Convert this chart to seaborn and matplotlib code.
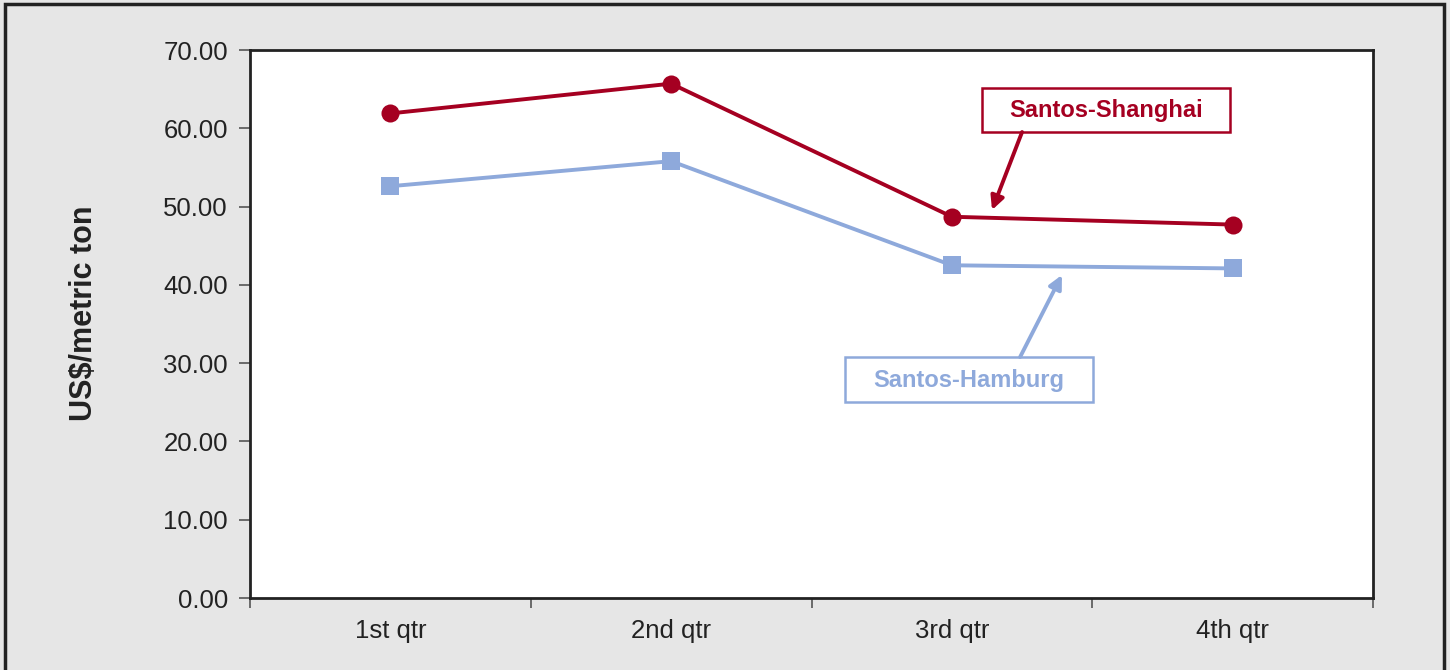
import matplotlib
matplotlib.use("Agg")
import matplotlib.pyplot as plt
import seaborn as sns
import pandas as pd
from matplotlib.patches import Rectangle
from matplotlib.ticker import FixedLocator, NullFormatter, FixedFormatter

quarters = ["1st qtr", "2nd qtr", "3rd qtr", "4th qtr"]
shanghai = [61.9, 65.7, 48.7, 47.7]
hamburg = [52.6, 55.8, 42.5, 42.1]
yticks = [0, 10, 20, 30, 40, 50, 60, 70]

RED = "#A50021"
BLUE = "#8EA9DB"
BG = "#E6E6E6"

sns.set_theme(style="white")
plt.rcParams["font.family"] = ["Liberation Sans", "DejaVu Sans"]

fig = plt.figure(figsize=(14.5, 6.7), dpi=100, facecolor=BG)
ax = fig.add_axes([250/1450, 72/670, 1123/1450, 548/670])
ax.set_facecolor("white")

df = pd.DataFrame({"quarter": quarters, "shanghai": shanghai, "hamburg": hamburg})
sns.lineplot(data=df, x="quarter", y="shanghai", ax=ax, color=RED, linewidth=2.8,
             marker="o", markersize=13, markeredgewidth=0, sort=False)
sns.lineplot(data=df, x="quarter", y="hamburg", ax=ax, color=BLUE, linewidth=2.8,
             marker="s", markersize=13, markeredgewidth=0, sort=False)

ax.set_xlim(-0.5, 3.5)
ax.set_ylim(0, 70)
ax.set_yticks(yticks)
ax.set_yticklabels([f"{v:.2f}" for v in yticks])
ax.xaxis.set_major_locator(FixedLocator([-0.5, 0.5, 1.5, 2.5, 3.5]))
ax.xaxis.set_major_formatter(NullFormatter())
ax.xaxis.set_minor_locator(FixedLocator([0, 1, 2, 3]))
ax.xaxis.set_minor_formatter(FixedFormatter(quarters))
ax.tick_params(axis="x", which="major", direction="out", length=7, width=1.2, color="#555555", bottom=True)
ax.tick_params(axis="x", which="minor", length=0, pad=15, labelsize=18.5, labelcolor="#222222", bottom=True)
ax.tick_params(axis="y", direction="out", length=8, width=1.2, color="#555555", pad=8,
               labelsize=18.5, labelcolor="#222222", left=True)
ax.set_xlabel("")
ax.set_ylabel("US$/metric ton", fontsize=22, fontweight="bold", color="#222222")
ax.yaxis.set_label_coords(-(250 - 99) / 1123, 0.52)
for s in ax.spines.values():
    s.set_visible(True)
    s.set_color("#222222")
    s.set_linewidth(2)

# annotation boxes (data coordinates)
ax.add_patch(Rectangle((2.107, 59.52), 2.991 - 2.107, 65.14 - 59.52, fc="white", ec=RED, lw=1.8, zorder=5))
ax.text(2.549, 62.33, "Santos-Shanghai", fontsize=17, fontweight="bold", color=RED,
        ha="center", va="center", zorder=6)
ax.annotate("", xy=(2.143, 49.56), xytext=(2.25, 59.52),
            arrowprops=dict(arrowstyle="-|>", color=RED, lw=2.8, mutation_scale=20,
                            shrinkA=0, shrinkB=0), zorder=6)

ax.add_patch(Rectangle((1.619, 25.03), 2.503 - 1.619, 30.78 - 25.03, fc="white", ec=BLUE, lw=1.8, zorder=5))
ax.text(2.061, 27.84, "Santos-Hamburg", fontsize=17, fontweight="bold", color=BLUE,
        ha="center", va="center", zorder=6)
ax.annotate("", xy=(2.392, 41.26), xytext=(2.243, 30.78),
            arrowprops=dict(arrowstyle="-|>", color=BLUE, lw=2.8, mutation_scale=20,
                            shrinkA=0, shrinkB=0), zorder=6)

fig.patches.append(Rectangle((5/1450, -0.05), 1439/1450, 1.05 - 4/670, transform=fig.transFigure,
                             fill=False, ec="#222222", lw=2.5, figure=fig))

fig.savefig("out.png", dpi=100, facecolor=BG)
